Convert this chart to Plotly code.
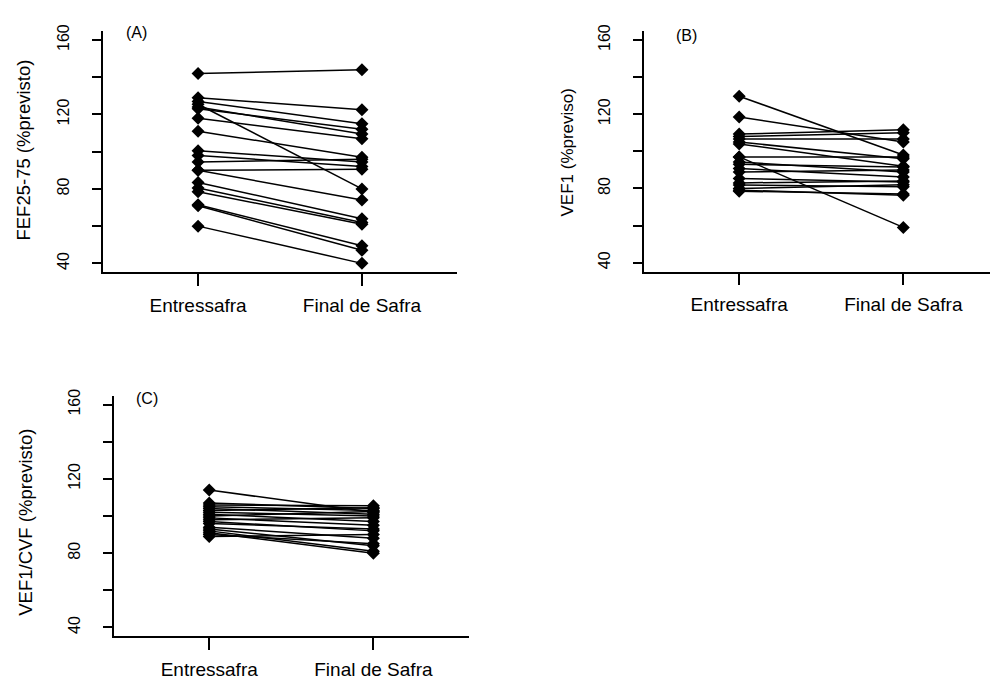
import plotly.graph_objects as go

W, H = 990, 695

categories = ["Entressafra", "Final de Safra"]
y_ticks = [40, 60, 80, 100, 120, 140, 160]
y_ticktext = ["40", "", "80", "", "120", "", "160"]

# Panel A: FEF25-75 (%previsto)
fef_entressafra = [142, 129, 127, 125.5, 123, 124, 118, 111, 100.5, 98, 94.5, 90, 90, 83.5, 80.5, 78.5, 71.5, 71, 60]
fef_final = [144, 122.5, 115, 80, 112, 109.5, 107, 97, 94.5, 92, 96, 90.5, 74, 64, 62, 61, 49.5, 47, 40]

# Panel B: VEF1 (%previso)
vef1_entressafra = [129.7, 118.5, 109.3, 108, 106.7, 105, 104, 97, 96.9, 94.2, 93, 90.7, 88.9, 85.3, 83, 81.8, 80, 79.1, 78.5]
vef1_final = [98, 105, 111.6, 110, 106.7, 96, 92, 59, 97, 88.9, 91.5, 86.2, 90, 83.5, 84, 80.9, 82, 76.4, 77]

# Panel C: VEF1/CVF (%previsto)
vc_entressafra = [114, 107, 106, 105, 104, 103, 102, 101, 100, 99, 98, 97, 96, 94, 93, 92, 91, 90, 89]
vc_final = [102, 104, 105.5, 103, 101, 104.5, 100, 97, 102.5, 95, 99, 92, 93, 88, 84, 81, 80, 85, 90]

panels = [
    ("x", "y", fef_entressafra, fef_final),
    ("x2", "y2", vef1_entressafra, vef1_final),
    ("x3", "y3", vc_entressafra, vc_final),
]

fig = go.Figure()
for xa, ya, pre, post in panels:
    for a, b in zip(pre, post):
        fig.add_trace(go.Scatter(
            x=categories, y=[a, b], mode="lines+markers",
            xaxis=xa, yaxis=ya, showlegend=False,
            line=dict(color="black", width=1.5),
            marker=dict(symbol="diamond", size=10, color="black"),
        ))

def px_x(p):
    return p / W

def px_y(p):
    return 1 - p / H

FONT = "Liberation Sans, Arial, sans-serif"

def xaxis(domain, rng):
    return dict(
        domain=domain, range=rng, type="category",
        showline=True, linecolor="black", linewidth=1.5,
        ticks="outside", ticklen=12, tickwidth=1.5, tickcolor="black",
        showgrid=False, zeroline=False, ticklabelstandoff=3,
        tickfont=dict(family=FONT, size=19, color="black"),
    )

def yaxis(domain, anchor):
    return dict(
        domain=domain, range=[35.2, 164.8], anchor=anchor,
        tickvals=y_ticks, ticktext=y_ticktext, tickangle=-90,
        showline=True, linecolor="black", linewidth=1.5,
        ticks="outside", ticklen=9, tickwidth=1.5, tickcolor="black",
        showgrid=False, zeroline=False, ticklabelstandoff=17,
        tickfont=dict(family=FONT, size=16, color="black"),
    )

fig.update_layout(
    width=W, height=H,
    margin=dict(l=0, r=0, t=0, b=0),
    paper_bgcolor="white", plot_bgcolor="white",
    xaxis=dict(xaxis([px_x(103), px_x(457)], [-0.58, 1.58]), anchor="y"),
    yaxis=yaxis([px_y(268), px_y(24.3)], "x"),
    xaxis2=dict(xaxis([px_x(644), 1.0], [-0.58, 1.528]), anchor="y2"),
    yaxis2=yaxis([px_y(267.3), px_y(24.3)], "x2"),
    xaxis3=dict(xaxis([px_x(114), px_x(468.6)], [-0.58, 1.58]), anchor="y3"),
    yaxis3=yaxis([px_y(635.7), px_y(392.7)], "x3"),
)

annots = [
    ("FEF25-75 (%previsto)", 24, 145, -90, 18.5),
    ("VEF1 (%previso)", 568, 147, -90, 17),
    ("VEF1/CVF (%previsto)", 26, 521, -90, 18.5),
    ("(A)", 136, 25.5, 0, 16),
    ("(B)", 686, 29, 0, 16),
    ("(C)", 146.5, 395.5, 0, 16),
]
for text, x, y, ang, sz in annots:
    fig.add_annotation(
        text=text, x=px_x(x), y=px_y(y), xref="paper", yref="paper",
        xanchor="center", yanchor="middle", showarrow=False, textangle=ang,
        font=dict(family=FONT, size=sz, color="black"),
    )

fig.write_html("out.html", config={"displayModeBar": False},
               post_script="document.body.style.margin='0';")
